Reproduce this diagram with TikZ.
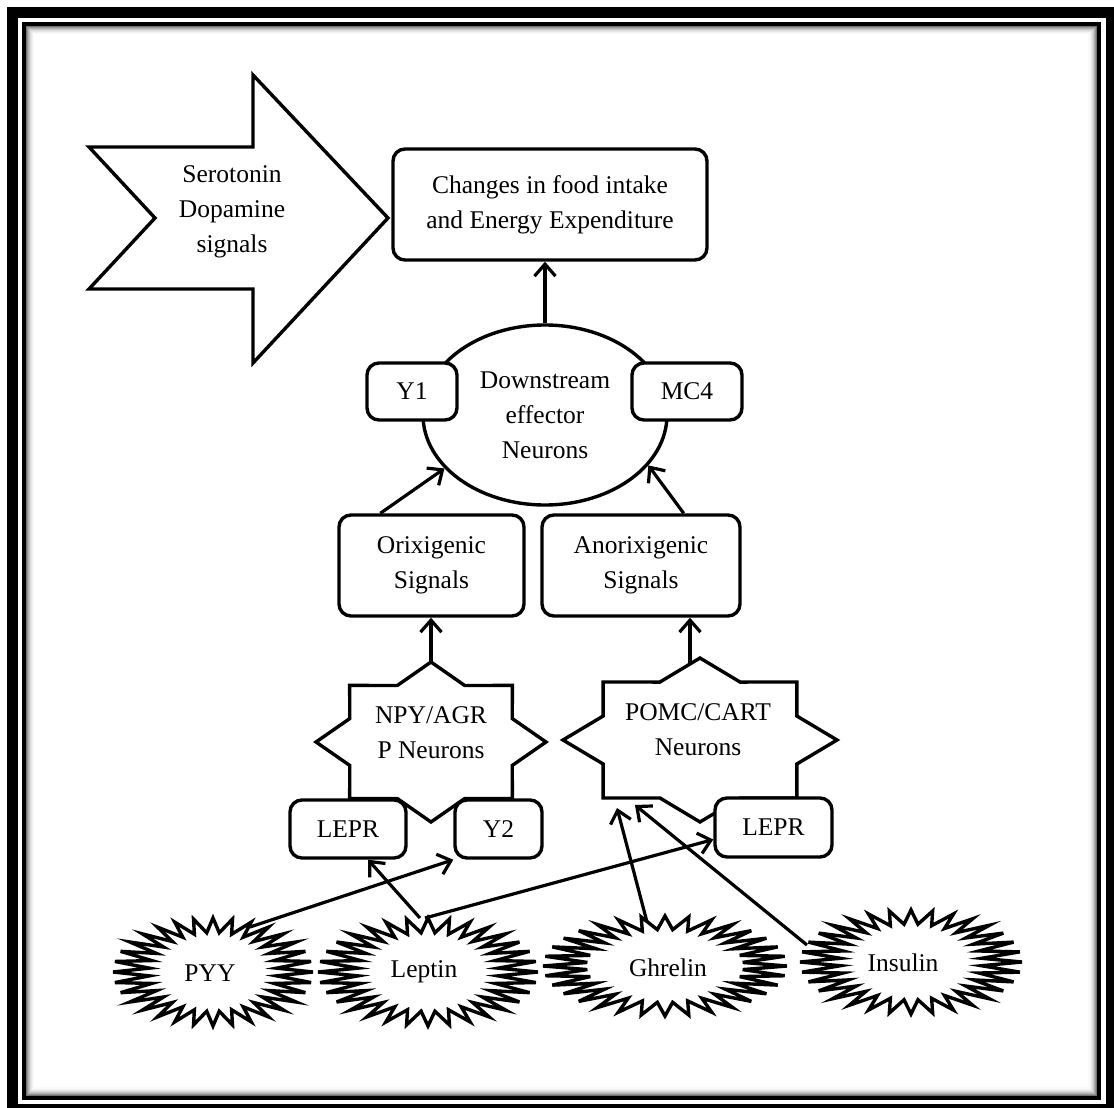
\documentclass[tikz,border=0pt]{standalone}
\usepackage{fontspec}
\setmainfont{Liberation Serif}
\usetikzlibrary{shapes.geometric,arrows.meta,calc}

% eight-pointed star: centre x, centre y, half width, half height
\newcommand\eightstar[4]{%
  \draw[shapeline] plot[samples at={0,...,15}, variable=\k]
    ({#1+ifthenelse(mod(\k,2)==0,1,0.765)*#3*cos(90+22.5*\k)},
     {#2-ifthenelse(mod(\k,2)==0,1,0.765)*#4*sin(90+22.5*\k)}) -- cycle;}

% spiky burst with 32 points: centre x, centre y, outer half width, outer half height
\newcommand\spikyburst[4]{%
  \draw[burstline] plot[samples at={0,...,63}, variable=\k]
    ({#1+ifthenelse(mod(\k,2)==0,#3,0.64*#3)*cos(5.625*\k)},
     {#2-ifthenelse(mod(\k,2)==0,#4,0.73*#4)*sin(5.625*\k)}) -- cycle;}

\begin{document}
\begin{tikzpicture}[x=1pt,y=-1pt,
  lbl/.style={font=\fontsize{25.5}{35}\selectfont, align=center, inner sep=0pt},
  rbox/.style={lbl, rectangle, draw, fill=white, line width=3.4pt, rounded corners=12pt},
  shapeline/.style={draw, fill=white, line width=3.4pt, line join=miter},
  burstline/.style={draw, fill=white, line width=3.4pt, line join=miter, miter limit=8},
  conn/.style={line width=3.2pt, -{Straight Barb[length=12pt,width=21pt]}}]

\useasboundingbox (0,0) rectangle (1114,1108);

% page frame with inner shadow
\fill[black] (7,7) rectangle (1114,1108);
\fill[white] (18.3,18.3) rectangle (1106,1104);
\draw[line width=4.3pt] (23.9,23.9) rectangle (1098.6,1097.6);
\foreach \i/\g in {0/55,1/42,2/31,3/22,4/15,5/9,6/5,7/2}
  \draw[black!\g, line width=1.05pt] (26.5+\i,26.5+\i) rectangle (1096-\i,1095-\i);

% block arrow
\draw[shapeline] (89,147) -- (253,147) -- (253,75) -- (388,218) -- (253,363)
  -- (253,289) -- (89,289) -- (155,218) -- cycle;
\node[lbl] (sero) at (232,212) {Serotonin\\Dopamine\\signals};

% outcome box
\node[rbox, minimum width=314pt, minimum height=111pt] (out) at (550,204.5)
  {Changes in food intake\\and Energy Expenditure};

% effector neurons with receptors
\node[lbl, ellipse, draw, fill=white, line width=3.4pt,
  minimum width=244pt, minimum height=180pt] (eff) at (545,415)
  {Downstream\\effector\\Neurons};
\node[rbox, minimum width=90pt, minimum height=57pt] (y1) at (412,391.5) {Y1};
\node[rbox, minimum width=110pt, minimum height=57pt] (mc4) at (687,391.5) {MC4};

% signal boxes
\node[rbox, minimum width=185pt, minimum height=101pt] (orx) at (431.5,565.5)
  {Orixigenic\\Signals};
\node[rbox, minimum width=198pt, minimum height=101pt] (anx) at (641,565.5)
  {Anorixigenic\\Signals};

% neuron populations
\eightstar{431}{742}{115}{80}
\node[lbl] (npy) at (431,733) {NPY/AGR\\P Neurons};
\eightstar{700}{740}{137}{82}
\node[lbl] (pomc) at (698,730) {POMC/CART\\Neurons};

% receptors on the neurons
\node[rbox, minimum width=116pt, minimum height=58pt] (lepl) at (348,829) {LEPR};
\node[rbox, minimum width=87pt, minimum height=58pt] (y2) at (498.5,829) {Y2};
\node[rbox, minimum width=117pt, minimum height=59pt] (lepr) at (773.5,827.5) {LEPR};

% hormones
\spikyburst{213}{972}{100}{54}
\node[lbl] (pyy) at (210,973) {PYY};
\spikyburst{428}{972}{110}{54}
\node[lbl] (lep) at (424,972) {Leptin};
\spikyburst{665}{966}{122}{50}
\node[lbl] (ghr) at (668,968) {Ghrelin};
\spikyburst{911}{962}{111}{52}
\node[lbl] (ins) at (903,963) {Insulin};

% connector end points on the shapes
\coordinate (npy-n) at (431,662);
\coordinate (pomc-n) at (690,664);
\coordinate (pomc-sw1) at (617,808);
\coordinate (pomc-sw2) at (635,805);
\coordinate (pyy-t) at (250,927);
\coordinate (lep-t1) at (420,918);
\coordinate (lep-t2) at (425,918);
\coordinate (ghr-t) at (647,922);
\coordinate (ins-w) at (807,945);

% connectors
\draw[conn] (eff.north) -- (eff.north |- out.south);
\draw[conn] ($(orx.north west)+(43,0)$) -- (eff.208);
\draw[conn] ($(anx.north east)+(-58,0)$) -- (eff.-26);
\draw[conn] (npy-n) -- (npy-n |- orx.south);
\draw[conn] (pomc-n) -- (pomc-n |- anx.south);
\draw[conn] (pyy-t) -- (y2.south west);
\draw[conn] (lep-t1) -- ($(lepl.south)+(20,0)$);
\draw[conn] (lep-t2) -- ($(lepr.west)+(0,12)$);
\draw[conn] (ghr-t) -- (pomc-sw1);
\draw[conn] (ins-w) -- (pomc-sw2);
\end{tikzpicture}
\end{document}
